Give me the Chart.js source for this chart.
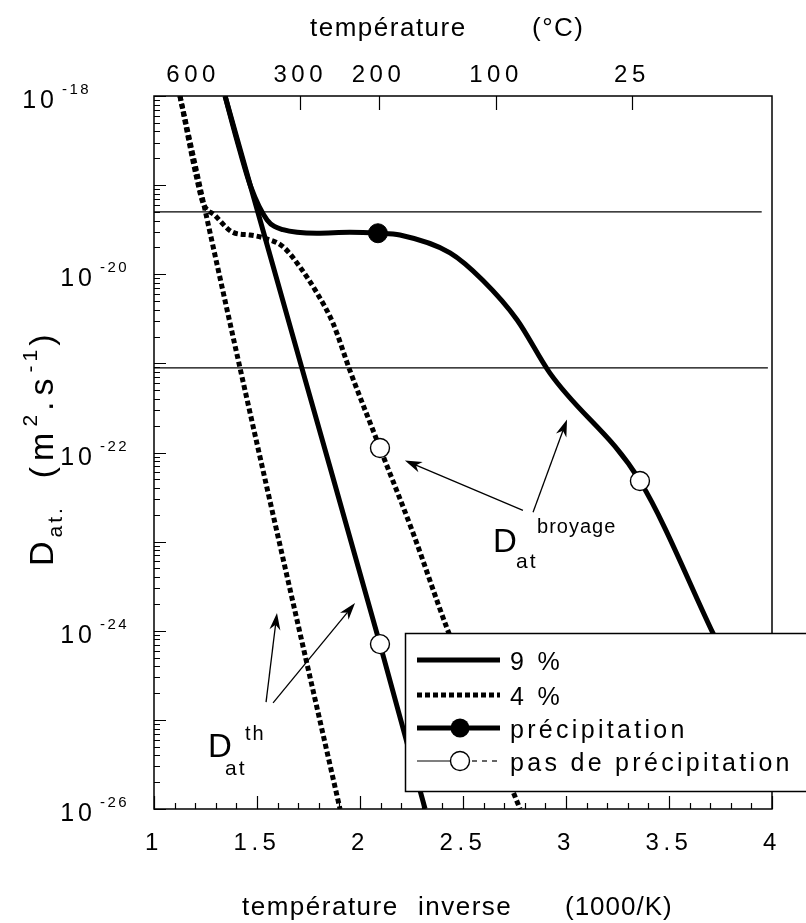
<!DOCTYPE html>
<html>
<head>
<meta charset="utf-8">
<script src="https://cdn.jsdelivr.net/npm/chart.js@4.4.1/dist/chart.umd.min.js"></script>
<style>
  html, body { margin: 0; padding: 0; background: #fff; }
  #wrap { width: 806px; height: 923px; }
</style>
</head>
<body>
<div id="wrap"><canvas id="c" width="806" height="923"></canvas></div>
<script>
// Abscissa: inverse temperature (1000/K). Ordinates: log10 of D (m².s⁻¹).
const th4X = [1.126, 1.427, 1.903];
const th4E = [-18.0, -21.15, -26.0];

const br4X = [1.126, 1.209, 1.238, 1.296, 1.383, 1.466, 1.529, 1.626, 1.709, 1.791, 1.869, 1.951, 2.097, 2.257, 2.422, 2.777];
const br4E = [-18.0, -18.94, -19.20, -19.34, -19.53, -19.56, -19.59, -19.69, -19.92, -20.21, -20.55, -21.08, -21.95, -22.90, -23.97, -26.0];

const th9X = [1.345, 1.72, 2.097, 2.316];
const th9E = [-18.0, -21.07, -24.15, -26.0];

const br9X = [1.345, 1.403, 1.470, 1.549, 1.626, 1.791, 1.951, 2.087, 2.194, 2.437, 2.597, 2.762, 2.922, 3.359, 3.714, 3.80];
const br9E = [-18.0, -18.50, -19.02, -19.39, -19.50, -19.54, -19.53, -19.54, -19.56, -19.76, -20.07, -20.51, -21.11, -22.32, -24.03, -24.45];

// horizontal reference levels
const levelE = [-19.30, -21.05];
const levelEndX = [3.95, 3.98];

// markers
const precipX = [2.087];
const precipE = [-19.54];
const noPrecipX = [2.097, 2.097, 3.359];
const noPrecipE = [-21.95, -24.15, -22.32];

// axes
const yDecades = [-18, -20, -22, -24, -26];
const topTickPos = [1.19, 1.71, 2.09, 2.66, 3.32];
const topTickLabels = ['600', '300', '200', '100', '25'];
const topTickMark = [false, true, true, true, true];

const legendLabels = ['9 %', '4 %', 'précipitation', 'pas de précipitation'];

const FONT = '"Liberation Sans", Arial, Helvetica, sans-serif';

function pts(xs, es) {
  return xs.map((x, i) => ({ x: x, y: Math.pow(10, es[i]) }));
}

function curve(label, xs, es, dashed) {
  return {
    label: label,
    data: pts(xs, es),
    showLine: true,
    borderColor: '#000',
    backgroundColor: '#000',
    borderWidth: 5,
    borderDash: dashed ? [5, 3] : [],
    borderCapStyle: 'butt',
    pointRadius: 0,
    pointHoverRadius: 0,
    cubicInterpolationMode: 'monotone',
    clip: 0,
    order: 5
  };
}

const datasets = [
  {
    label: 'précipitation',
    data: pts(precipX, precipE),
    showLine: false,
    pointRadius: 9.5,
    pointBackgroundColor: '#000',
    pointBorderColor: '#000',
    pointBorderWidth: 1,
    order: 1
  },
  {
    label: 'pas de précipitation',
    data: pts(noPrecipX, noPrecipE),
    showLine: false,
    pointRadius: 9.5,
    pointBackgroundColor: '#fff',
    pointBorderColor: '#000',
    pointBorderWidth: 1.4,
    order: 1
  },
  curve('9 % th', th9X, th9E, false),
  curve('9 % broyage', br9X, br9E, false),
  curve('4 % th', th4X, th4E, true),
  curve('4 % broyage', br4X, br4E, true)
];
levelE.forEach((e, i) => {
  datasets.push({
    label: 'niveau ' + (i + 1),
    data: pts([1, levelEndX[i]], [e, e]),
    showLine: true,
    borderColor: '#000',
    borderWidth: 1.4,
    pointRadius: 0,
    clip: 0,
    order: 8
  });
});

function txt(ctx, s, x, y, size, spacing, align, baseline) {
  ctx.save();
  ctx.font = size + 'px ' + FONT;
  ctx.letterSpacing = spacing + 'px';
  ctx.textAlign = align || 'left';
  ctx.textBaseline = baseline || 'alphabetic';
  ctx.fillStyle = '#000';
  ctx.fillText(s, x, y);
  const w = ctx.measureText(s).width;
  ctx.restore();
  return w;
}

// segments: [text, size, baselineShift, spacing]
function rich(ctx, segs, x, y) {
  let cx = x;
  segs.forEach(s => { cx += txt(ctx, s[0], cx, y + s[2], s[1], s[3]); });
  return cx - x;
}

function arrow(ctx, x1, y1, x2, y2) {
  const a = Math.atan2(y2 - y1, x2 - x1);
  const L = 17, W = 5.5, N = 12;
  ctx.save();
  ctx.strokeStyle = '#000';
  ctx.fillStyle = '#000';
  ctx.lineWidth = 1.3;
  ctx.beginPath();
  ctx.moveTo(x1, y1);
  ctx.lineTo(x2 - Math.cos(a) * N, y2 - Math.sin(a) * N);
  ctx.stroke();
  ctx.translate(x2, y2);
  ctx.rotate(a);
  ctx.beginPath();
  ctx.moveTo(0, 0);
  ctx.lineTo(-L, -W);
  ctx.lineTo(-N, 0);
  ctx.lineTo(-L, W);
  ctx.closePath();
  ctx.fill();
  ctx.restore();
}

const overlay = {
  id: 'overlay',
  beforeDraw(chart) {
    const ctx = chart.ctx;
    ctx.save();
    ctx.fillStyle = '#fff';
    ctx.fillRect(0, 0, chart.width, chart.height);
    ctx.restore();
    ctx.letterSpacing = '4.5px';
  },
  afterDatasetsDraw(chart) {
    const ctx = chart.ctx;
    const a = chart.chartArea;
    const xs = chart.scales.x, ys = chart.scales.y, xt = chart.scales.x2;
    const X = v => xs.getPixelForValue(v);
    const Y = e => ys.getPixelForValue(Math.pow(10, e));

    ctx.save();
    ctx.strokeStyle = '#000';
    ctx.lineWidth = 1.5;
    ctx.strokeRect(a.left, a.top, a.right - a.left, a.bottom - a.top);

    ctx.lineWidth = 1.2;
    ctx.beginPath();
    // bottom axis: minor every 0.1, major every 0.5
    for (let k = 10; k <= 40; k++) {
      const px = Math.round(X(k / 10)) + 0.5;
      const len = (k % 5 === 0) ? 13 : 6;
      ctx.moveTo(px, a.bottom);
      ctx.lineTo(px, a.bottom - len);
    }
    // top axis: temperature marks
    topTickPos.forEach((v, i) => {
      if (!topTickMark[i]) return;
      const px = Math.round(xt.getPixelForValue(v)) + 0.5;
      ctx.moveTo(px, a.top);
      ctx.lineTo(px, a.top + 14);
    });
    // left axis: log ticks
    for (let d = -26; d <= -18; d++) {
      const py = Math.round(Y(d)) + 0.5;
      ctx.moveTo(a.left, py);
      ctx.lineTo(a.left + 12, py);
      if (d === -18) continue;
      for (let m = 2; m <= 9; m++) {
        const q = Math.round(ys.getPixelForValue(m * Math.pow(10, d))) + 0.5;
        ctx.moveTo(a.left, q);
        ctx.lineTo(a.left + 6, q);
      }
    }
    ctx.stroke();
    ctx.restore();

    // y tick labels 10^n (the top one sits further left)
    yDecades.forEach(e => {
      const py = Y(e);
      const sx = e === -18 ? -38 : 0;
      txt(ctx, '10', 96 + sx, py + 12, 25, 4, 'right');
      txt(ctx, String(e), 100 + sx, py - 2, 15, 2.5, 'left');
    });

    // axis titles
    txt(ctx, 'température', 242, 915, 26, 1.5, 'left');
    txt(ctx, 'inverse', 418, 915, 26, 1.5, 'left');
    txt(ctx, '(1000/K)', 565, 915, 26, 1, 'left');
    txt(ctx, 'température', 310, 36, 26, 1.5, 'left');
    txt(ctx, '(°C)', 532, 36, 26, 1.5, 'left');

    // y title, rotated
    ctx.save();
    ctx.translate(53, 566);
    ctx.rotate(-Math.PI / 2);
    rich(ctx, [
      ['D', 34, 0, 4], ['at.', 21, 9, 3], ['  ', 34, 0, 4], ['(m', 34, 0, 6],
      ['2', 21, -16, 4], ['.s', 34, 0, 6], ['-1', 21, -16, 4], [')', 34, 0, 2]
    ], 0, 0);
    ctx.restore();

    // annotations
    const bx = X(2.646), by = Y(-23.118);
    txt(ctx, 'D', bx, by, 33, 0);
    txt(ctx, 'at', bx + 23, by + 16, 21, 2);
    txt(ctx, 'broyage', bx + 44, by - 19, 20, 1);
    arrow(ctx, X(2.791), Y(-22.65), X(2.218), Y(-22.09));
    arrow(ctx, X(2.840), Y(-22.67), X(3.005), Y(-21.63));

    const tx = X(1.262), ty = Y(-25.419);
    txt(ctx, 'D', tx, ty, 33, 0);
    txt(ctx, 'at', tx + 17, ty + 18, 21, 2);
    txt(ctx, 'th', tx + 37, ty - 17, 20, 2);
    arrow(ctx, X(1.544), Y(-24.80), X(1.597), Y(-23.80));
    arrow(ctx, X(1.578), Y(-24.81), X(1.976), Y(-23.69));

    // legend box
    const lx = 405, ly = 633, lw = 420, lh = 158;
    ctx.save();
    ctx.fillStyle = '#fff';
    ctx.fillRect(lx, ly, lw, lh);
    ctx.strokeStyle = '#000';
    ctx.lineWidth = 1.5;
    ctx.strokeRect(lx + 0.5, ly + 0.5, lw, lh);
    const rows = [660, 695, 728, 761];
    const x0 = 417, x1 = 500, xc = 460;
    ctx.lineCap = 'butt';
    // 9 %
    ctx.lineWidth = 5;
    ctx.beginPath(); ctx.moveTo(x0, rows[0]); ctx.lineTo(x1, rows[0]); ctx.stroke();
    // 4 %
    ctx.setLineDash([5, 3]);
    ctx.beginPath(); ctx.moveTo(x0, rows[1]); ctx.lineTo(x1, rows[1]); ctx.stroke();
    ctx.setLineDash([]);
    // précipitation
    ctx.beginPath(); ctx.moveTo(x0, rows[2]); ctx.lineTo(x1, rows[2]); ctx.stroke();
    ctx.fillStyle = '#000';
    ctx.beginPath(); ctx.arc(xc, rows[2], 9.5, 0, Math.PI * 2); ctx.fill();
    // pas de précipitation
    ctx.lineWidth = 1.2;
    ctx.beginPath(); ctx.moveTo(x0, rows[3]); ctx.lineTo(xc - 9.5, rows[3]); ctx.stroke();
    ctx.setLineDash([5, 5]);
    ctx.beginPath(); ctx.moveTo(xc + 12, rows[3]); ctx.lineTo(x1, rows[3]); ctx.stroke();
    ctx.setLineDash([]);
    ctx.fillStyle = '#fff';
    ctx.lineWidth = 1.4;
    ctx.beginPath(); ctx.arc(xc, rows[3], 9.5, 0, Math.PI * 2); ctx.fill(); ctx.stroke();
    ctx.restore();
    legendLabels.forEach((s, i) => txt(ctx, s, 510, rows[i] + 10, 25, 3.3, 'left'));
  },
  afterDraw(chart) {
    chart.ctx.letterSpacing = '0px';
  }
};

new Chart(document.getElementById('c'), {
  type: 'scatter',
  data: { datasets: datasets },
  options: {
    responsive: false,
    devicePixelRatio: 1,
    animation: false,
    events: [],
    layout: { padding: { left: 0, right: 34, top: 0, bottom: 0 } },
    plugins: { legend: { display: false }, tooltip: { enabled: false } },
    scales: {
      x: {
        type: 'linear',
        position: 'bottom',
        min: 1,
        max: 4,
        ticks: {
          stepSize: 0.5,
          color: '#000',
          padding: 20,
          maxRotation: 0,
          font: { family: FONT, size: 24 },
          callback: v => String(v)
        },
        grid: { display: false, drawTicks: false },
        border: { display: false },
        afterFit: s => { s.height = 114; }
      },
      x2: {
        type: 'linear',
        position: 'top',
        min: 1,
        max: 4,
        afterBuildTicks: s => { s.ticks = topTickPos.map(v => ({ value: v })); },
        ticks: {
          color: '#000',
          padding: 6,
          maxRotation: 0,
          autoSkip: false,
          font: { family: FONT, size: 24 },
          callback: (v, i) => topTickLabels[i]
        },
        grid: { display: false, drawTicks: false },
        border: { display: false },
        afterFit: s => { s.height = 96; }
      },
      y: {
        type: 'logarithmic',
        position: 'left',
        min: 1e-26,
        max: 1e-18,
        ticks: { display: false },
        grid: { display: false, drawTicks: false },
        border: { display: false },
        afterFit: s => { s.width = 154; }
      }
    }
  },
  plugins: [overlay]
});
</script>
</body>
</html>
